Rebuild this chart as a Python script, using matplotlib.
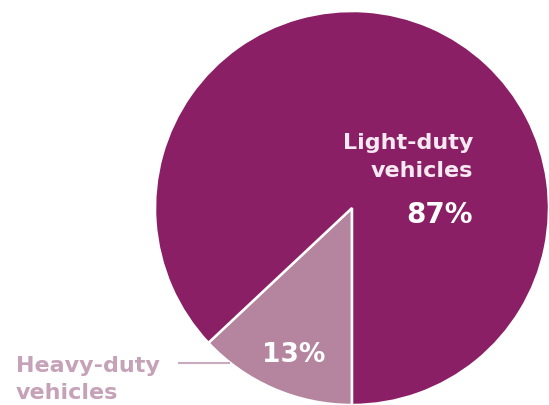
import numpy as np
import matplotlib.pyplot as plt

# vehicle share of emissions
labels = ["Heavy-duty\nvehicles", "Light-duty\nvehicles"]
shares = [13, 87]
colors = ["#B5849F", "#8B1F65"]

W, H = 549, 405
fig = plt.figure(figsize=(W / 100, H / 100), dpi=100)
ax = fig.add_axes([0, 0, 1, 1])

cx, cy, r = 352, H - 208, 197
ax.pie(shares, colors=colors, startangle=270, counterclock=False,
       center=(cx, cy), radius=r, frame=True,
       wedgeprops=dict(edgecolor="white", linewidth=1.8))
ax.set_xlim(0, W)
ax.set_ylim(0, H)
ax.axis("off")

font = "DejaVu Sans"


def stacked(x, y0, text, step, ha, color, size):
    # one text call per line so each baseline sits where we want it
    for i, line in enumerate(text.split("\n")):
        ax.text(x, H - (y0 + i * step), line, ha=ha, va="baseline",
                color=color, fontsize=size, fontweight="bold", family=font)


# large slice label
stacked(473, 149, labels[1], 28, "right", "#F6E9F1", 16)
ax.text(473, H - 223, f"{shares[1]}%", ha="right", va="baseline",
        color="white", fontsize=20, fontweight="bold", family=font)

# small slice value and callout
ax.text(294, H - 362, f"{shares[0]}%", ha="center", va="baseline",
        color="white", fontsize=19, fontweight="bold", family=font)
stacked(16, 372, labels[0], 27, "left", "#C6A2B8", 16)
ax.plot([178, 230], [H - 363, H - 363], color="#C9A9BD", linewidth=1.5,
        solid_capstyle="butt")

fig.savefig("out.png", dpi=100, facecolor="white")
